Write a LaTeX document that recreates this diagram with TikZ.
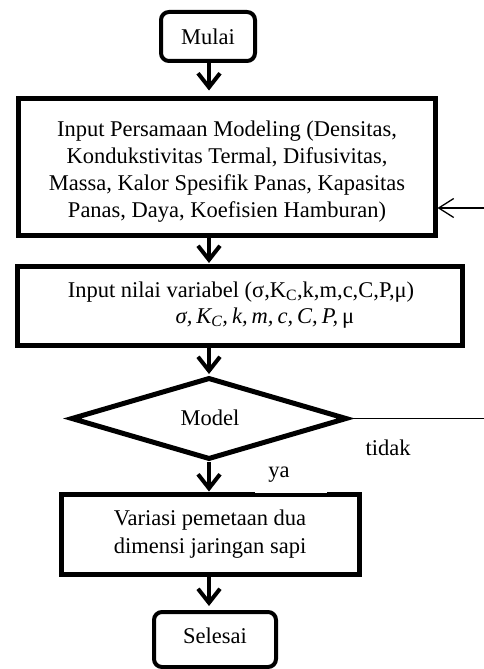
\documentclass[tikz,border=0pt]{standalone}
\usepackage{fontspec}
\setmainfont{Liberation Serif}
\usetikzlibrary{arrows.meta,shapes.geometric}
\begin{document}
\begin{tikzpicture}[x=1pt,y=-1pt,
  every node/.style={font=\fontsize{22.5}{27}\selectfont},
  txt/.style={anchor=base, inner sep=0pt, outer sep=0pt},
  procbox/.style={draw, line width=5pt, inner sep=0pt},
  termbox/.style={draw, line width=4pt, rounded corners=8pt, inner sep=0pt},
  decbox/.style={draw, diamond, line width=5pt, inner sep=0pt, miter limit=10},
  flow/.style={line width=4pt, -{Straight Barb[length=14pt,width=22pt]}},
  thinline/.style={line width=1.3pt},
  fbarrow/.style={line width=1.3pt, -{Straight Barb[length=15pt,width=19pt]}}]
\useasboundingbox (0,0) rectangle (484,669);
\coordinate (ax) at (209,0);

% Start
\node[termbox, minimum width=94pt, minimum height=49pt] (mulai) at (208,36.5) {};
\node[txt] (tmulai) at (208,45) {Mulai};

% Input box
\node[procbox, minimum width=417pt, minimum height=137pt] (input) at (226.5,166.5) {};
\node[txt] (in1) at (227,136) {Input Persamaan Modeling (Densitas,};
\node[txt] (in2) at (227,163) {Kondukstivitas Termal, Difusivitas,};
\node[txt] (in3) at (227,190) {Massa, Kalor Spesifik Panas, Kapasitas};
\node[txt] (in4) at (227,217) {Panas, Daya, Koefisien Hamburan)};

% Variable box
\node[procbox, minimum width=445pt, minimum height=79pt] (var) at (240,306) {};
\node[txt] (v1) at (241,297) {Input nilai variabel (σ,K\textsubscript{C},k,m,c,C,P,μ)};
\node[txt] (v2) at (265,323) {{\itshape σ,\kern4pt K\textsubscript{\itshape C},\kern4pt k,\kern4pt m,\kern4pt c,\kern4pt C,\kern4pt P,\kern4pt}μ};

% Decision
\node[decbox, minimum width=276pt, minimum height=82pt] (dec) at (209,418.5) {};
\node[txt] (tdec) at (210,425) {Model};
\coordinate (decend) at (484,418.5);
\draw[thinline] (dec.east) -- (decend);
\node[txt] (tidak) at (388,455) {tidak};

% Result box
\node[procbox, minimum width=298pt, minimum height=80.5pt] (res) at (210,534.25) {};
\node[txt] (r1) at (210,525) {Variasi pemetaan dua};
\node[txt] (r2) at (210,553) {dimensi jaringan sapi};

% ya label on white patch
\node[fill=white, inner sep=0pt, minimum width=72pt, minimum height=45pt] (yapatch) at (291,470) {};
\node[txt] (ya) at (279,477) {ya};

% End
\node[termbox, minimum width=122pt, minimum height=55pt] (selesai) at (215,639.5) {};
\node[txt] (tselesai) at (215,643) {Selesai};

% Flow arrows
\draw[flow, shorten >=5pt] (ax |- mulai.south) -- (ax |- input.north);
\draw[flow, shorten >=1pt] (ax |- input.south) -- (ax |- var.north);
\draw[flow, shorten >=1pt] (ax |- var.south) -- (ax |- dec.north);
\draw[flow] (dec.south) -- (ax |- res.north);
\draw[flow, shorten >=4pt] (ax |- res.south) -- (ax |- selesai.north);

% Feedback arrow
\coordinate (fb) at (484,208);
\draw[fbarrow] (fb) -- (fb -| input.east);
\end{tikzpicture}
\end{document}
